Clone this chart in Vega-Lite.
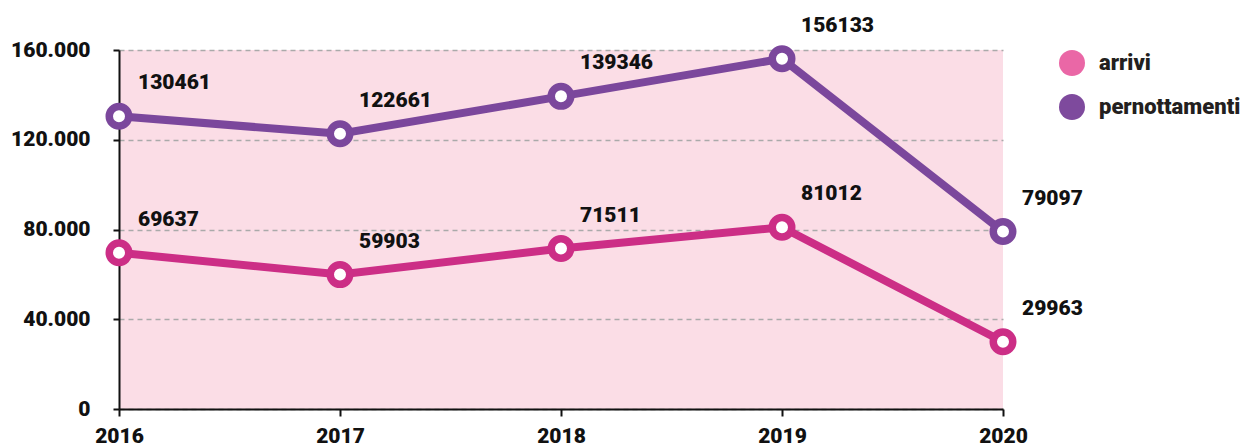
{
  "$schema": "https://vega.github.io/schema/vega-lite/v6.json",
  "autosize": {"type": "none"},
  "width": 884,
  "height": 359,
  "padding": {"left": 119, "top": 50, "right": 253, "bottom": 39},
  "background": "white",
  "config": {
    "view": {"fill": "#fbdde6", "stroke": null},
    "font": "Roboto"
  },
  "data": {
    "values": [
      {"anno": 2016, "serie": "arrivi", "valore": 69637},
      {"anno": 2017, "serie": "arrivi", "valore": 59903},
      {"anno": 2018, "serie": "arrivi", "valore": 71511},
      {"anno": 2019, "serie": "arrivi", "valore": 81012},
      {"anno": 2020, "serie": "arrivi", "valore": 29963},
      {"anno": 2016, "serie": "pernottamenti", "valore": 130461},
      {"anno": 2017, "serie": "pernottamenti", "valore": 122661},
      {"anno": 2018, "serie": "pernottamenti", "valore": 139346},
      {"anno": 2019, "serie": "pernottamenti", "valore": 156133},
      {"anno": 2020, "serie": "pernottamenti", "valore": 79097}
    ]
  },
  "encoding": {
    "x": {
      "field": "anno", "type": "quantitative",
      "scale": {"domain": [2016, 2020], "nice": false, "zero": false},
      "axis": {
        "title": null, "values": [2016, 2017, 2018, 2019, 2020], "format": "d",
        "grid": false, "domainColor": "#111", "domainWidth": 2,
        "tickColor": "#111", "tickWidth": 2, "tickSize": 7,
        "labelFont": "Roboto",
        "labelFontWeight": 900, "labelFontSize": 21, "labelColor": "#111",
        "labelPadding": 9, "labelFlush": false, "labelBound": false, "labelOverlap": false
      }
    },
    "y": {
      "field": "valore", "type": "quantitative",
      "scale": {"domain": [0, 160000], "nice": false},
      "axis": {
        "title": null, "values": [0, 40000, 80000, 120000, 160000],
        "labelExpr": "replace(format(datum.value, ','), regexp(',', 'g'), '.')",
        "grid": true, "gridColor": "#aaaaaa", "gridDash": [5, 4], "gridWidth": 1.5,
        "domainColor": "#111", "domainWidth": 2,
        "tickColor": "#111", "tickWidth": 2, "tickSize": 6,
        "labelFont": "Roboto",
        "labelFontWeight": 900, "labelFontSize": 21, "labelColor": "#111",
        "labelPadding": 23, "labelFlush": false, "labelBound": false, "labelOverlap": false
      }
    }
  },
  "layer": [
    {
      "mark": {"type": "line", "strokeWidth": 8},
      "encoding": {
        "color": {
          "field": "serie", "type": "nominal",
          "scale": {"domain": ["arrivi", "pernottamenti"], "range": ["#cc2e86", "#7b479c"]},
          "legend": {
            "title": null, "orient": "none", "legendX": 940, "legendY": 0,
            "symbolType": "circle", "symbolSize": 676, "symbolStrokeWidth": 0,
            "symbolOpacity": 1,
            "labelFont": "Roboto",
            "labelFontWeight": 900, "labelFontSize": 22, "labelColor": "#231f20",
            "labelOffset": 14, "rowPadding": 18, "labelLimit": 300,
            "encode": {
              "symbols": {"update": {"fill": {"signal": "datum.value === 'arrivi' ? '#ea67a6' : '#7e4a9d'"}, "opacity": {"value": 1}}}
            }
          }
        }
      }
    },
    {
      "mark": {"type": "point", "shape": "circle", "filled": false, "fill": "white", "fillOpacity": 1, "opacity": 1, "strokeWidth": 7.5, "size": 380},
      "encoding": {
        "color": {"field": "serie", "type": "nominal", "legend": null}
      }
    },
    {
      "mark": {"type": "text", "align": "left", "baseline": "middle", "dx": 19, "dy": -33, "fontSize": 21, "fontWeight": 900, "color": "#111", "font": "Roboto"},
      "encoding": {
        "text": {"field": "valore", "type": "quantitative", "format": "d"}
      }
    }
  ]
}
